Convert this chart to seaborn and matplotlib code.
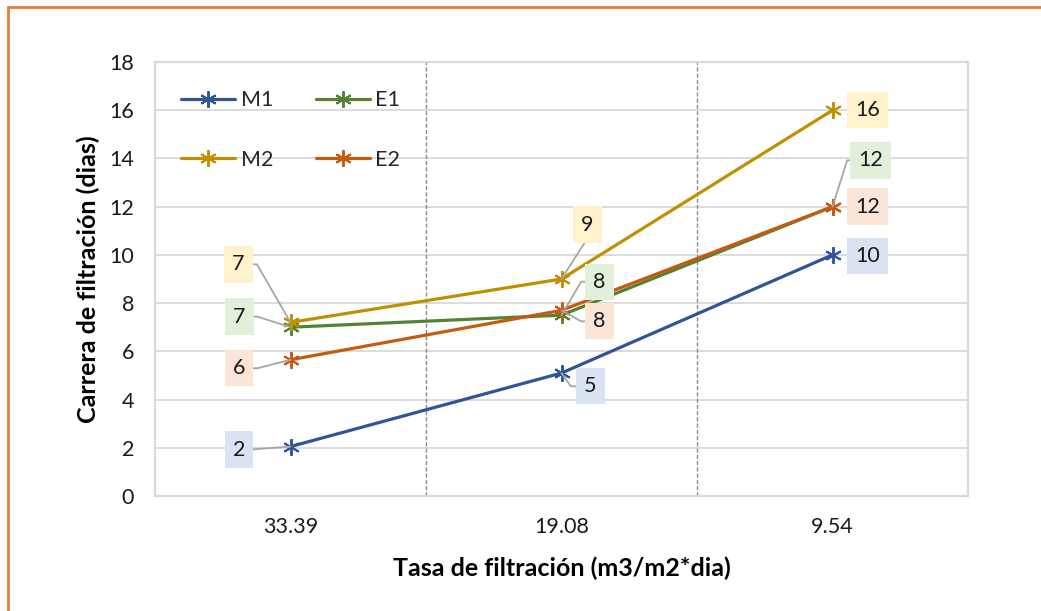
import numpy as np
import pandas as pd
import matplotlib
matplotlib.use("Agg")
import matplotlib.pyplot as plt
from matplotlib.patches import Rectangle
import seaborn as sns

# ---------------- data ----------------
categories = ["33.39", "19.08", "9.54"]
m1 = [2.05, 5.1, 10.0]
e1 = [7.0, 7.5, 12.0]
m2 = [7.2, 9.0, 16.0]
e2 = [5.65, 7.7, 12.0]
series_names = ["M1", "E1", "M2", "E2"]
y_ticks = [0, 2, 4, 6, 8, 10, 12, 14, 16, 18]

# ---------------- styles ----------------
colors = {"M1": "#2F5597", "E1": "#548235", "M2": "#BF9000", "E2": "#C55A11"}
label_fill = {"M1": "#DAE3F3", "E1": "#E2EFDA", "M2": "#FFF2CC", "E2": "#FBE5D6"}
# label offsets (points) from the data point, and leader style (angleA, armA) or None
label_layout = {
    "M1": [(-37, -2.2, (0, 10.4)), (20.9, -9.5, (180, 19.8)), (25.2, -0.8, None)],
    "E1": [(-37, 7.6, (0, 18.4)), (27.4, 24.1, (180, 18.4)), (27.4, 33.3, (180, 23.4))],
    "M2": [(-37.4, 41.8, (0, 18.4)), (18.7, 39.2, (-90, 13.7)), (25.2, 0, None)],
    "E2": [(-37, -6.1, (0, 18.4)), (27.4, -7.9, (180, 18.4)), (25.2, 0, None)],
}

values = {"M1": m1, "E1": e1, "M2": m2, "E2": e2}
df = pd.DataFrame({
    "x": [c for s in series_names for c in categories],
    "y": [v for s in series_names for v in values[s]],
    "series": [s for s in series_names for _ in categories],
})

sns.set_theme(style="white")
plt.rcParams["font.family"] = ["Lato", "DejaVu Sans"]

fig = plt.figure(figsize=(10.41, 6.11), dpi=100)
ax = fig.add_axes([155 / 1041, 1 - 496 / 611, (968 - 155) / 1041, (496 - 62) / 611])

asterisk = (6, 2, 0)
sns.lineplot(data=df, x="x", y="y", hue="series", hue_order=series_names,
             palette=colors, sort=False, estimator=None, ax=ax,
             linewidth=2.3, marker=asterisk, markersize=12,
             markeredgewidth=1.4, legend=False)
for line, s in zip(ax.lines, series_names):
    line.set_markeredgecolor(colors[s])
    line.set_markerfacecolor(colors[s])

ax.set_xlim(-0.5, len(categories) - 0.5)
ax.set_ylim(0, 18)
ax.set_yticks(y_ticks)
ax.set_xticks(range(len(categories)))
ax.set_xticklabels(categories)
ax.yaxis.grid(True, color="#D9D9D9", linewidth=1.3)
ax.xaxis.grid(False)
ax.set_axisbelow(True)
for sp in ax.spines.values():
    sp.set_color("#D9D9D9")
    sp.set_linewidth(1.6)
for xb in np.arange(0.5, len(categories) - 0.5, 1):
    ax.axvline(xb, color="#8C8C8C", linestyle=(0, (3, 1.5)), linewidth=1.0, zorder=1)

ax.tick_params(axis="both", length=0, labelsize=15.5, colors="#1a1a1a")
ax.tick_params(axis="y", pad=15)
ax.tick_params(axis="x", pad=15)
ax.set_xlabel("Tasa de filtración (m3/m2*dia)", fontsize=18, fontweight="bold",
              color="#000000")
ax.set_ylabel("Carrera de filtración (dias)", fontsize=18, fontweight="bold",
              color="#000000")
ax.xaxis.set_label_coords(0.5, (496 - 568) / 434)
ax.yaxis.set_label_coords((88 - 155) / 813, 0.5)
ax.xaxis.label.set_va("center")
ax.yaxis.label.set_va("center")

# data labels
for s in series_names:
    for i, v in enumerate(values[s]):
        dx, dy, leader = label_layout[s][i]
        arrow = None
        if leader is not None:
            angA, armA = leader
            arrow = dict(arrowstyle="-", color="#A6A6A6", lw=1.3,
                         connectionstyle=f"arc,angleA={angA},armA={armA},angleB=0,armB=0,rad=0",
                         shrinkA=0, shrinkB=0)
        ax.annotate(f"{v:.0f}", xy=(i, v), xytext=(dx, dy), textcoords="offset points",
                    ha="center", va="center", fontsize=15.5, color="#1a1a1a",
                    bbox=dict(boxstyle="square,pad=0.38", fc=label_fill[s], ec="none"),
                    arrowprops=arrow, zorder=5)

# legend (2 columns: M1 E1 / M2 E2)
handles = {s: l for s, l in zip(series_names, ax.lines)}
order = ["M1", "M2", "E1", "E2"]
leg = ax.legend([handles[s] for s in order], order, ncol=2, loc="upper left",
                bbox_to_anchor=(0.022, 0.955), frameon=False, fontsize=15.5,
                handlelength=2.5, labelspacing=1.85, columnspacing=2.0,
                handletextpad=0.25, borderaxespad=0)

# orange chart border
fig.patches.append(Rectangle((7.5 / 1041, -0.05), 1.2, 1 - 6.5 / 611 + 0.05,
                             transform=fig.transFigure, fill=False,
                             edgecolor="#ED7D31", linewidth=2.0))

fig.savefig("out.png", dpi=100)
